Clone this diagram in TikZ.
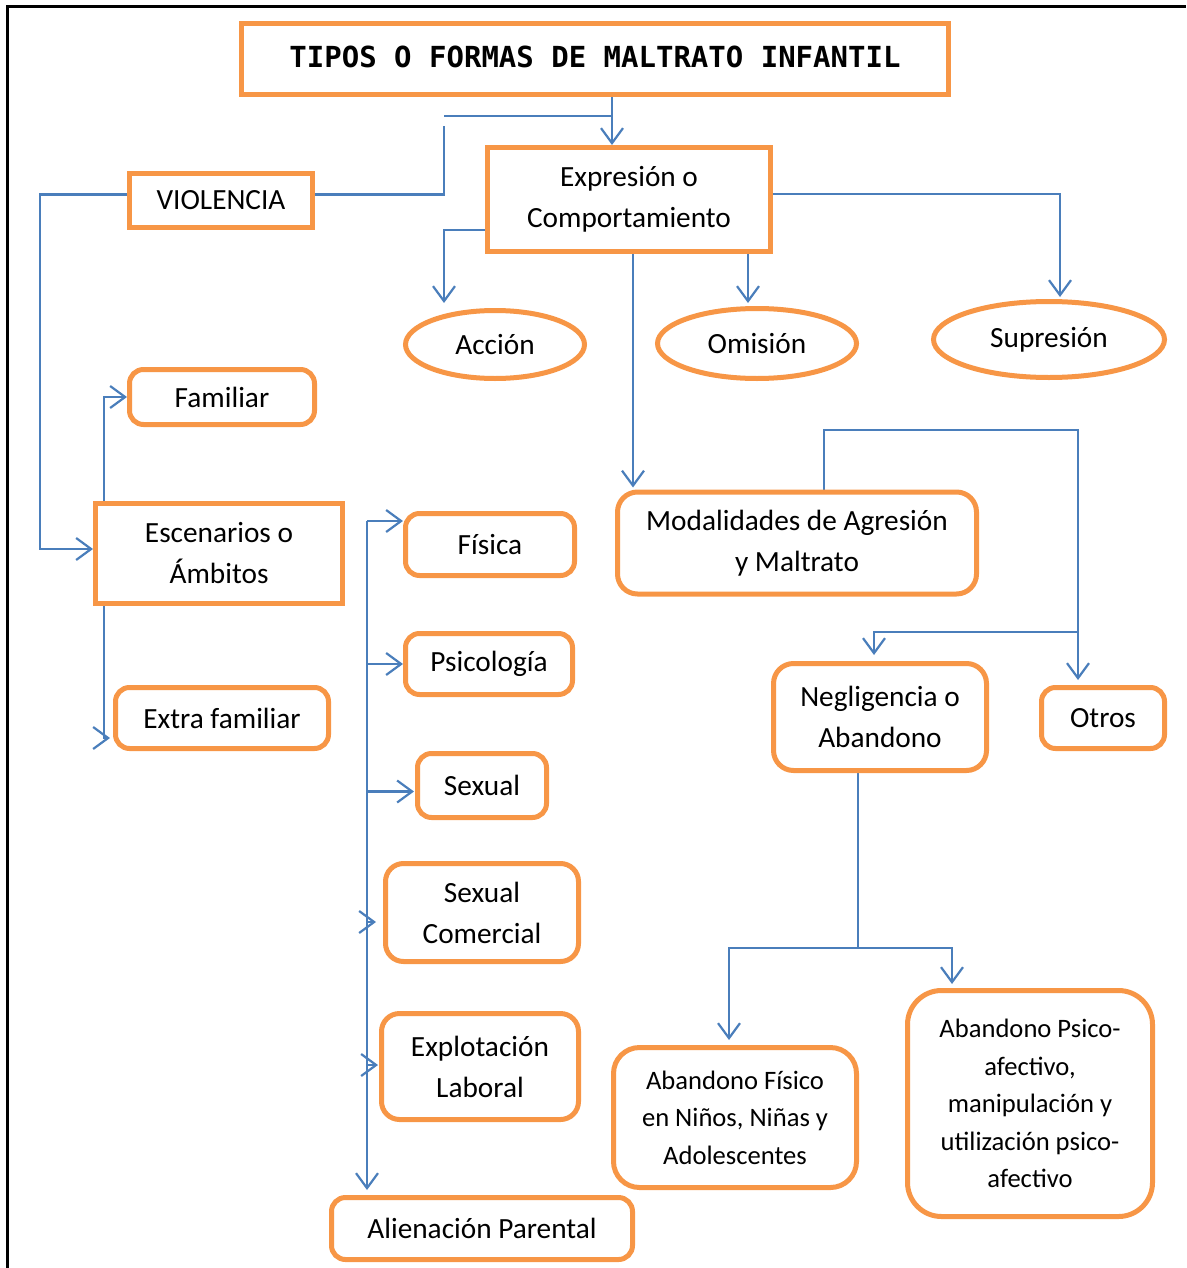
\documentclass[tikz,border=0pt]{standalone}
\usepackage{fontspec}
\setmainfont{Carlito}
\newfontfamily\titlefont{DejaVu Sans Mono}
\usetikzlibrary{arrows.meta,shapes.geometric,calc,backgrounds}
\definecolor{orng}{HTML}{F79646}
\definecolor{blu}{HTML}{4A7EBB}
\tikzset{
 box/.style={draw=orng,line width=5pt,fill=white,inner sep=0pt,align=center,font=\fontsize{29.3}{41}\selectfont},
 rbox/.style={box,rounded corners=14pt},
 oval/.style={box,ellipse},
 small/.style={font=\fontsize{26.6}{37.4}\selectfont},
 conn/.style={draw=blu,line width=2.2pt},
 arr/.style={conn,-{Straight Barb[length=15pt,width=22pt]}},
 frame/.style={draw=black,line width=2.6pt},
}
\begin{document}
\begin{tikzpicture}[x=1pt,y=-1pt]
\useasboundingbox (0,0) rectangle (1186,1268);
\draw[frame] (7.5,1268) -- (7.5,6.5) -- (1186,6.5);

% nodes
\node[box,minimum width=707pt,minimum height=71pt,font=\titlefont\bfseries\fontsize{29}{35}\selectfont] (title) at (595,59) {\raisebox{5pt}{TIPOS O FORMAS DE MALTRATO INFANTIL}};
\node[box,minimum width=283pt,minimum height=104pt] (expr) at (629,199.5) {Expresión o\\Comportamiento};
\node[box,minimum width=183pt,minimum height=54pt] (viol) at (221,200.5) {VIOLENCIA};
\node[oval,minimum width=179pt,minimum height=68pt] (acc) at (495,344.5) {\raisebox{-3pt}{Acción}};
\node[oval,minimum width=199pt,minimum height=70pt] (omi) at (757,343.5) {Omisión};
\node[oval,minimum width=231pt,minimum height=76pt] (sup) at (1049,339.5) {Supresión};
\node[rbox,minimum width=185pt,minimum height=55pt] (fam) at (222,397) {\raisebox{-3pt}{Familiar}};
\node[box,minimum width=247pt,minimum height=100pt] (esc) at (219,553.5) {Escenarios o\\Ámbitos};
\node[rbox,minimum width=213pt,minimum height=61pt] (ext) at (222,718) {Extra familiar};
\node[rbox,minimum width=169pt,minimum height=62pt] (fis) at (490,544.5) {Física};
\node[rbox,minimum width=167pt,minimum height=61pt] (psi) at (489,664) {\raisebox{-2pt}{Psicología}};
\node[rbox,minimum width=129pt,minimum height=64pt] (sex) at (482,785.5) {Sexual};
\node[rbox,rounded corners=18pt,minimum width=193pt,minimum height=98pt] (sco) at (482,912.5) {Sexual\\Comercial};
\node[rbox,rounded corners=18pt,minimum width=197pt,minimum height=106pt] (exl) at (480,1066.5) {Explotación\\Laboral};
\node[rbox,minimum width=301pt,minimum height=62pt] (ali) at (482,1228.5) {Alienación Parental};
\node[rbox,rounded corners=20pt,minimum width=359pt,minimum height=102pt] (mod) at (797,543) {Modalidades de Agresión\\y Maltrato};
\node[rbox,rounded corners=20pt,minimum width=213pt,minimum height=107pt] (neg) at (880,717) {Negligencia o\\Abandono};
\node[rbox,minimum width=123pt,minimum height=61pt] (otr) at (1103,718) {Otros};
\node[rbox,small,rounded corners=26pt,minimum width=243pt,minimum height=140pt] (afi) at (735,1117.5) {Abandono Físico\\en Niños, Niñas y\\Adolescentes};
\node[rbox,small,rounded corners=34pt,minimum width=245pt,minimum height=226pt] (aps) at (1030,1103.5) {Abandono Psico-\\afectivo,\\manipulación y\\utilización psico-\\afectivo};

% guide coordinates
\coordinate (h1) at (444,116);
\coordinate (h2) at (612,116);
\coordinate (v1) at (444,126);
\coordinate (g633) at (633,0);
\coordinate (g748) at (748,0);
\coordinate (g104) at (104,0);
\coordinate (t0) at (367,521);
\coordinate (m1) at (824,430);
\coordinate (r1) at (1078,430);
\coordinate (b1) at (1078,632);
\coordinate (n1) at (858,948);

\begin{pgfonlayer}{background}
\draw[arr] ([xshift=17pt]title.south) -- ([xshift=-17pt]expr.north);
\draw[conn] (h1) -- (h2);
\draw[conn] ([yshift=6pt]viol.east) -| (v1);
\draw[arr] ([yshift=6pt]viol.west) -- ++(-87,0) |- ([yshift=4.5pt]esc.west);
\draw[arr] ([yshift=-30.5pt]expr.west) -| ([xshift=-51pt,yshift=5pt]acc.north);
\draw[arr] (expr.south -| g633) -- ([yshift=2pt]mod.north -| g633);
\draw[arr] (expr.south -| g748) -- ([yshift=3pt]omi.north -| g748);
\draw[arr] ([yshift=5.5pt]expr.east) -| ([xshift=11pt,yshift=2pt]sup.north);
\draw[arr] (esc.north -| g104) |- (fam.west);
\draw[arr] (esc.south -| g104) |- ([xshift=-3pt,yshift=-20pt]ext.west);
\draw[arr] (t0) -- (t0 -| fis.west);
\draw[arr] (t0 |- psi.west) -- (psi.west);
\draw[arr] ([yshift=-6pt]sex.west -| t0) -- ([yshift=-6pt,xshift=-1pt]sex.west);
\draw[arr] ([yshift=-9.5pt]sco.west -| t0) -- ([xshift=-7pt,yshift=-9.5pt]sco.west);
\draw[arr] ([yshift=1.5pt]exl.west -| t0) -- ([xshift=-1pt,yshift=1.5pt]exl.west);
\draw[arr] (t0) -- ([yshift=5pt]ali.north -| t0);
\draw[arr] (m1 |- mod.north) -- (m1) -- (r1) -- ([yshift=5pt]otr.north -| r1);
\draw[arr] (b1) -| ([xshift=-6pt,yshift=6pt]neg.north);
\draw[conn] (n1 |- neg.south) -- (n1);
\draw[arr] (n1) -| ([xshift=-6pt,yshift=5pt]afi.north);
\draw[arr] (n1) -| ([xshift=-78pt,yshift=4pt]aps.north);
\end{pgfonlayer}
\end{tikzpicture}
\end{document}
